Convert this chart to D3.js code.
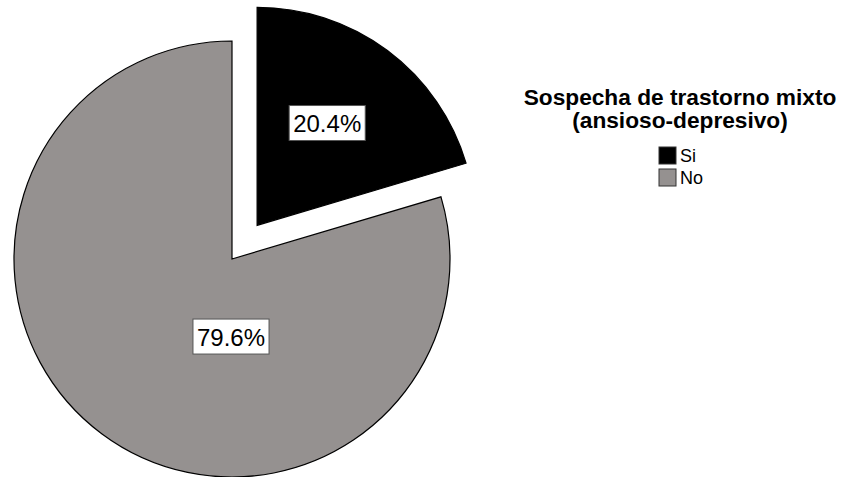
<!DOCTYPE html>
<html>
<head>
<meta charset="utf-8">
<script src="https://cdn.jsdelivr.net/npm/d3@7"></script>
<style>
  html, body { margin: 0; padding: 0; background: #fff; }
  svg { display: block; }
</style>
</head>
<body>
<svg id="chart" width="847" height="477"></svg>
<script>
const categories = ["Si", "No"];
const values = [20.4, 79.6];
const labels = ["20.4%", "79.6%"];
const colors = ["#000000", "#959190"];
const legendTitle = ["Sospecha de trastorno mixto", "(ansioso-depresivo)"];

const svg = d3.select("#chart");
const cx = 232, cy = 259, R = 218, explode = 42;

const data = categories.map((c, i) => ({ cat: c, value: values[i], label: labels[i], color: colors[i] }));

const pie = d3.pie().sort(null).value(d => d.value);
const arcs = pie(data);
const arc = d3.arc().innerRadius(0).outerRadius(R);

const g = svg.append("g").attr("transform", `translate(${cx},${cy})`);

const slice = g.selectAll("g.slice").data(arcs).enter().append("g")
  .attr("class", "slice")
  .attr("transform", (d, i) => {
    if (i === 0) {
      const mid = (d.startAngle + d.endAngle) / 2;
      return `translate(${Math.sin(mid) * explode},${-Math.cos(mid) * explode})`;
    }
    return null;
  });

slice.append("path")
  .attr("d", arc)
  .attr("fill", d => d.data.color)
  .attr("stroke", "#000")
  .attr("stroke-width", 1.2)
  .attr("stroke-linejoin", "miter");

// labels
slice.each(function(d, i) {
  const sel = d3.select(this);
  let lx, ly;
  if (i === 0) {
    const mid = (d.startAngle + d.endAngle) / 2 - 0.038;
    const r = R * 0.567;
    lx = Math.sin(mid) * r; ly = -Math.cos(mid) * r;
  } else {
    lx = -1; ly = R * 0.358;
  }
  const lg = sel.append("g").attr("transform", `translate(${lx},${ly})`);
  const t = lg.append("text")
    .attr("text-anchor", "middle")
    .attr("dy", "0.36em")
    .attr("font-family", "Liberation Sans Narrow, Arial Narrow, Liberation Sans, sans-serif")
    .attr("font-size", 24)
    .attr("fill", "#000")
    .text(d.data.label);
  const bb = t.node().getBBox();
  lg.insert("rect", "text")
    .attr("x", bb.x - 4)
    .attr("y", -18)
    .attr("width", bb.width + 8)
    .attr("height", 35)
    .attr("fill", "#fff")
    .attr("stroke", "#555")
    .attr("stroke-width", 1);
});

// legend
const lgX = 680;
const leg = svg.append("g");
leg.selectAll("text.title").data(legendTitle).enter().append("text")
  .attr("class", "title")
  .attr("x", lgX)
  .attr("y", (d, i) => 105 + i * 23)
  .attr("text-anchor", "middle")
  .attr("font-family", "Liberation Sans, Arial, sans-serif")
  .attr("font-weight", "bold")
  .attr("font-size", 22.7)
  .attr("fill", "#000")
  .text(d => d);

const items = leg.selectAll("g.item").data(data).enter().append("g")
  .attr("class", "item")
  .attr("transform", (d, i) => `translate(659,${147 + i * 22})`);
items.append("rect")
  .attr("width", 17).attr("height", 17)
  .attr("fill", d => d.color)
  .attr("stroke", "#333").attr("stroke-width", 1);
items.append("text")
  .attr("x", 21).attr("y", 15)
  .attr("font-family", "Liberation Sans Narrow, Arial Narrow, Liberation Sans, sans-serif")
  .attr("font-size", 18)
  .attr("fill", "#000")
  .text(d => d.cat);
</script>
</body>
</html>
